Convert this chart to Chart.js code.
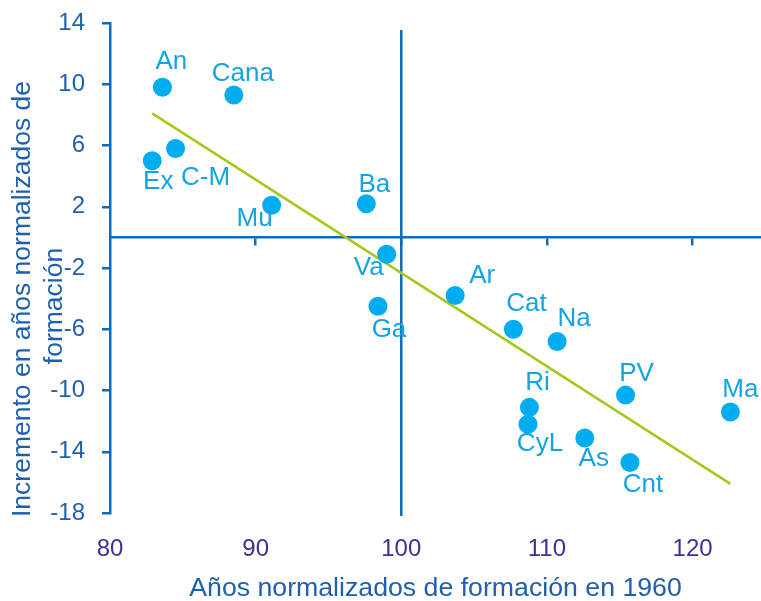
<!DOCTYPE html>
<html><head><meta charset="utf-8">
<script src="https://cdn.jsdelivr.net/npm/chart.js@4.4.1/dist/chart.umd.min.js"></script>
<style>html,body{margin:0;padding:0;background:#fff;overflow:hidden;} canvas{display:block;}</style>
</head><body><canvas id="c" width="761" height="601"></canvas>
<script>
// ---- data ----
const regions = ['An','Cana','Ex','C-M','Mu','Ba','Va','Ga','Ar','Cat','Na','Ri','CyL','As','PV','Cnt','Ma'];
const years1960 = [83.6,88.5,82.9,84.5,91.1,97.6,99.0,98.4,103.7,107.7,110.7,108.8,108.7,112.6,115.4,115.7,122.6];
const increment = [9.8,9.3,5.0,5.8,2.1,2.2,-1.1,-4.5,-3.8,-6.0,-6.8,-11.1,-12.2,-13.1,-10.3,-14.7,-11.4];
const trendX = [82.9, 122.6];
const trendY = [8.1, -16.1];
const refLineX = [100, 100];
const refLineY = [13.55, -18.2];
const yTicks = [-18,-14,-10,-6,-2,2,6,10,14];
const xTicks = [80,90,100,110,120];
const xTitle = 'Años normalizados de formación en 1960';
const yTitle = ['Incremento en años normalizados de', 'formación'];

// ---- styles ----
const FONT = "'Liberation Sans', Arial, sans-serif";
const axisColor = '#0f6bb8';
const pointColor = '#00aeef';
const labelColor = '#14a3e3';
const labelOffsets = {An:[9,-25],Cana:[9,-21],Ex:[6,21],'C-M':[30,29],Mu:[-17,14],Ba:[8,-19],Va:[-18,14],Ga:[11,24],Ar:[27,-20],Cat:[13,-25],Na:[17,-23],Ri:[8,-25],CyL:[12,20],As:[9,21],PV:[11,-21],Cnt:[13,22],Ma:[10,-22]};

const labelPlugin = {
  id: 'pointLabels',
  afterDatasetsDraw(chart) {
    const ctx = chart.ctx;
    const meta = chart.getDatasetMeta(0);
    ctx.save();
    ctx.font = '26px ' + FONT;
    ctx.fillStyle = labelColor;
    ctx.textAlign = 'center';
    ctx.textBaseline = 'middle';
    meta.data.forEach((pt, i) => {
      const o = labelOffsets[regions[i]] || [0, -22];
      ctx.fillText(regions[i], pt.x + o[0], pt.y + o[1]);
    });
    ctx.restore();
  }
};

const yTitlePlugin = {
  id: 'yTitle',
  afterDraw(chart) {
    const ctx = chart.ctx;
    ctx.save();
    ctx.font = '26.5px ' + FONT;
    ctx.fillStyle = '#1f5fae';
    ctx.textAlign = 'center';
    ctx.textBaseline = 'middle';
    const pos = [[23, 299], [55, 306]];
    yTitle.forEach((t, i) => {
      ctx.save();
      ctx.translate(pos[i][0], pos[i][1]);
      ctx.rotate(-Math.PI / 2);
      ctx.fillText(t, 0, 0);
      ctx.restore();
    });
    ctx.restore();
  }
};

new Chart(document.getElementById('c'), {
  type: 'scatter',
  data: {
    datasets: [
      {
        label: 'Regiones',
        data: years1960.map((x, i) => ({x, y: increment[i]})),
        backgroundColor: pointColor,
        borderColor: pointColor,
        pointRadius: 9.5,
        pointHoverRadius: 9.5,
        borderWidth: 0
      },
      {
        label: 'Tendencia',
        data: trendX.map((x, i) => ({x, y: trendY[i]})),
        showLine: true,
        borderColor: '#a4c91c',
        borderWidth: 2.5,
        pointRadius: 0,
        fill: false
      },
      {
        label: 'Media',
        data: refLineX.map((x, i) => ({x, y: refLineY[i]})),
        showLine: true,
        borderColor: axisColor,
        borderWidth: 2.5,
        pointRadius: 0,
        fill: false,
        clip: false
      }
    ]
  },
  options: {
    responsive: false,
    animation: false,
    devicePixelRatio: 1,
    layout: {autoPadding: false, padding: {top: 23, left: 0, right: 0, bottom: 0}},
    plugins: {legend: {display: false}, tooltip: {enabled: false}, title: {display: false}},
    scales: {
      x: {
        type: 'linear', position: 'bottom', min: 80, max: 124.7,
        afterBuildTicks: s => { s.ticks = xTicks.map(v => ({value: v})); },
        afterFit: s => { s.height = 88; s.paddingLeft = 0; s.paddingRight = 0; },
        border: {display: false},
        grid: {display: false, drawTicks: false},
        ticks: {color: '#3a3294', font: {family: FONT, size: 24}, padding: 22},
        title: {display: true, text: xTitle, color: '#1f5fae', font: {family: FONT, size: 26.7, lineHeight: 0.9}, padding: 0}
      },
      x2: {
        type: 'linear', position: {y: 0}, min: 80, max: 124.7,
        afterBuildTicks: s => { s.ticks = xTicks.filter(v => v > 80).map(v => ({value: v})); },
        afterFit: s => { s.paddingLeft = 0; s.paddingRight = 0; },
        border: {display: true, color: axisColor, width: 2.5},
        grid: {display: true, drawOnChartArea: false, drawTicks: true, tickLength: 7, color: axisColor, lineWidth: 2.5},
        ticks: {display: false}
      },
      y: {
        type: 'linear', min: -18, max: 14,
        afterBuildTicks: s => { s.ticks = yTicks.map(v => ({value: v})); },
        afterFit: s => { s.width = 110; s.paddingTop = 0; s.paddingBottom = 0; },
        border: {display: true, color: axisColor, width: 2.5},
        grid: {display: true, drawOnChartArea: false, drawTicks: true, tickLength: 8, color: axisColor, lineWidth: 2.5},
        ticks: {color: '#1f5fae', font: {family: FONT, size: 24}, padding: 17},
        title: {display: false}
      }
    }
  },
  plugins: [labelPlugin, yTitlePlugin]
});
</script>
</body></html>
